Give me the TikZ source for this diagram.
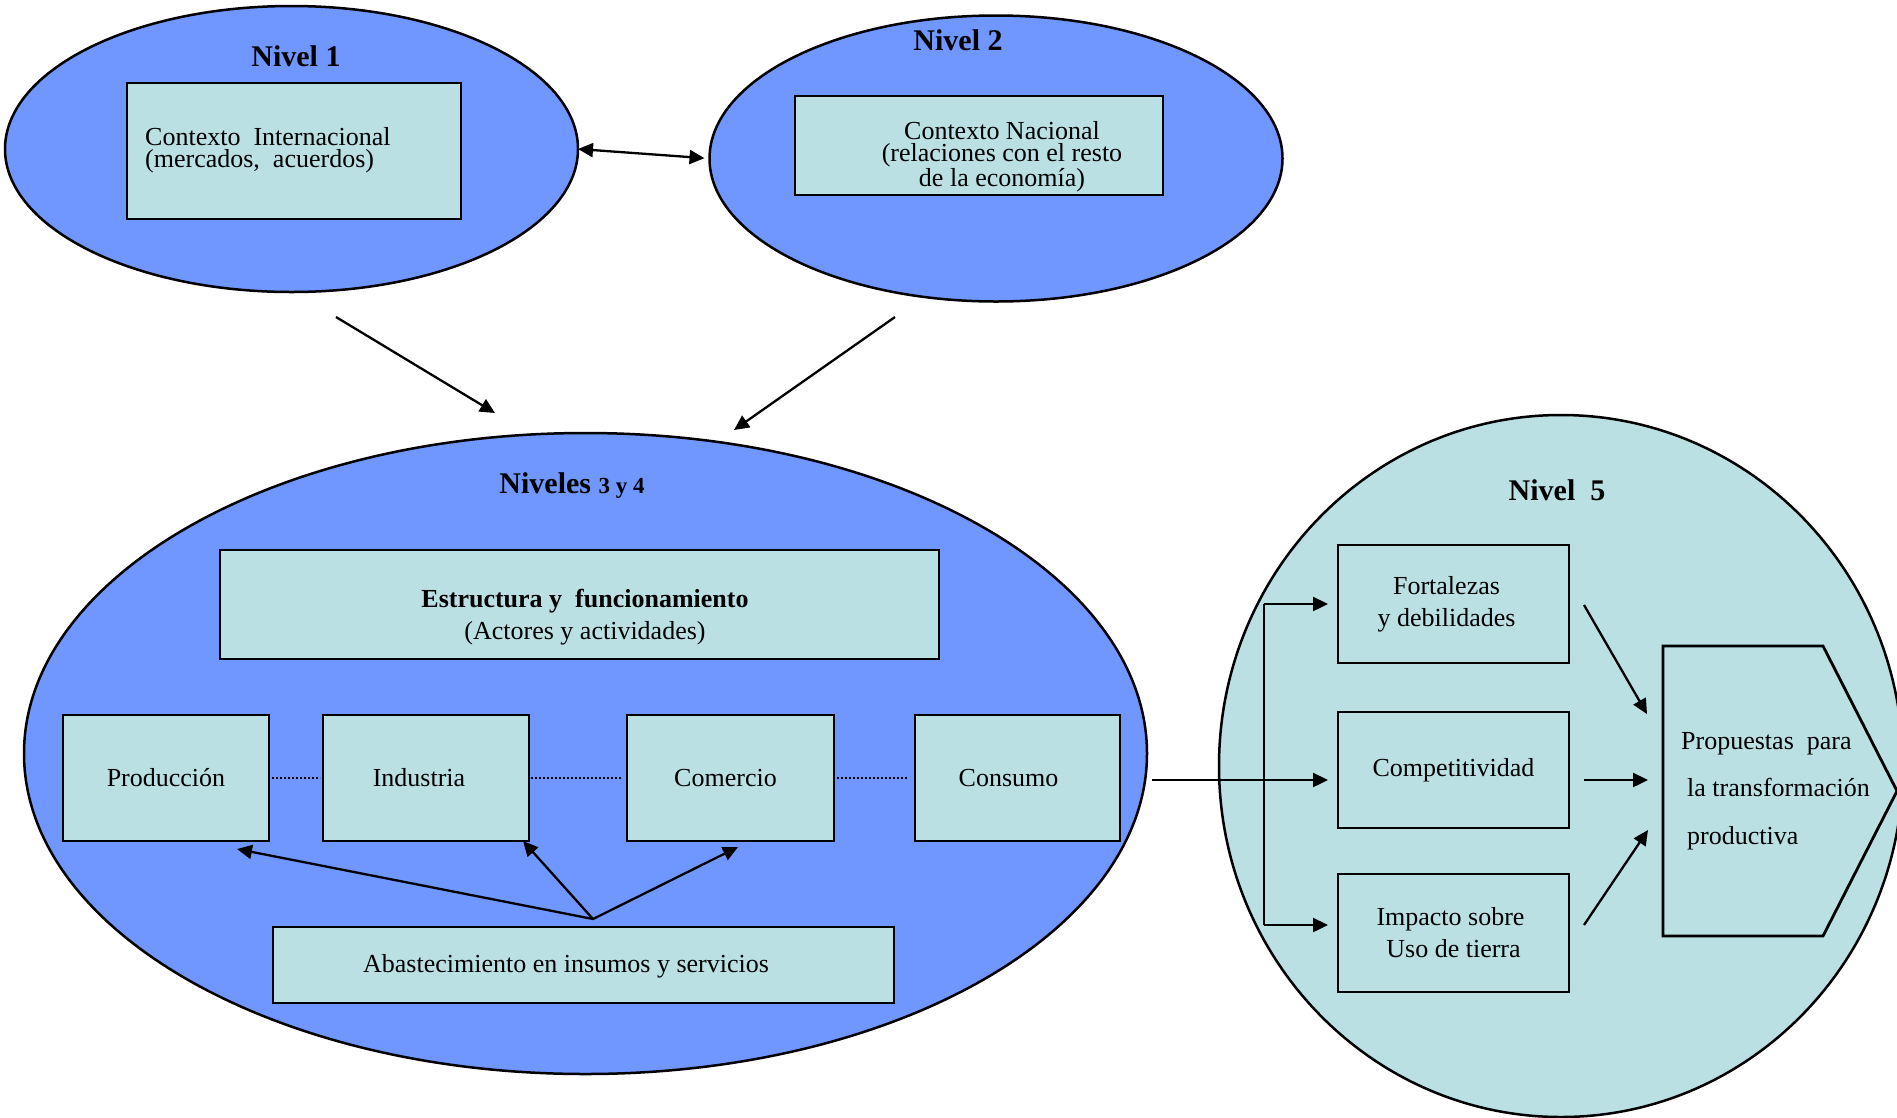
\documentclass[tikz,border=0pt]{standalone}
\usepackage{fontspec}
\setmainfont{Liberation Serif}
\usetikzlibrary{shapes.geometric,arrows.meta}
\definecolor{blueell}{RGB}{112,150,255}
\definecolor{lightbox}{RGB}{186,224,228}
\begin{document}
\begin{tikzpicture}[x=1pt,y=-1pt,
  ell/.style={ellipse,draw=black,line width=2.5pt,inner sep=0pt,outer sep=0pt},
  box/.style={draw=black,line width=2.8pt,fill=lightbox,inner sep=0pt,outer sep=0pt,align=center,font=\fontsize{26}{32}\selectfont},
  ttl/.style={font=\fontsize{30}{32}\selectfont\bfseries,inner sep=0pt},
  txt/.style={inner sep=0pt,align=center,font=\fontsize{26}{22}\selectfont},
  arr/.style={line width=2.3pt,-{Triangle[length=15pt,width=14pt]}},
  dots/.style={line width=2.4pt,dash pattern=on 2.3pt off 1.7pt}]
\useasboundingbox (0,0) rectangle (1897,1117);

% ---------- Nivel 1 ----------
\node[ell,fill=blueell,minimum width=573pt,minimum height=286pt] (n1) at (291.5,149) {};
\node[ttl] (t1) at (296,56) {Nivel 1};
\node[box,minimum width=334pt,minimum height=136pt] (b1) at (294,151) {};
\node[txt,align=left,anchor=west] (b1t) at (145,150) {Contexto\ \ Internacional\\(mercados,\ \ acuerdos)};

% ---------- Nivel 2 ----------
\node[ell,fill=blueell,minimum width=573pt,minimum height=286pt] (n2) at (996,158.5) {};
\node[ttl] (t2) at (958,40) {Nivel 2};
\node[box,minimum width=368pt,minimum height=99pt] (b2) at (979,145.5) {};
\node[txt] (b2t) at (1002,157) {Contexto Nacional\\(relaciones con el resto\\de la economía)};

\draw[line width=2.3pt,{Triangle[length=15pt,width=14pt]}-{Triangle[length=15pt,width=14pt]},shorten >=5pt] (n1.east) -- (n2.west);

% arrows down
\coordinate (a1s) at (336,317);
\coordinate (a1e) at (495,413);
\coordinate (a2s) at (895,317);
\coordinate (a2e) at (734,430);
\draw[arr] (a1s) -- (a1e);
\draw[arr] (a2s) -- (a2e);

% ---------- Niveles 3 y 4 ----------
\node[ell,fill=blueell,minimum width=1123pt,minimum height=641pt] (n34) at (585.5,753.5) {};
\node[inner sep=0pt] (t34) at (572,486) {\fontsize{30}{32}\selectfont\bfseries Niveles \fontsize{23}{26}\selectfont 3 y 4};
\node[box,minimum width=719pt,minimum height=109pt] (est) at (579.5,604.5) {};
\node[inner sep=0pt,align=center,font=\fontsize{26}{32}\selectfont] (estt) at (585,617) {\textbf{Estructura y\ \ funcionamiento}\\(Actores y actividades)};

\node[box,minimum width=206pt,minimum height=126pt] (prod) at (166,778) {Producción};
\node[box,minimum width=206pt,minimum height=126pt] (ind) at (426,778) {\hspace*{-14pt}Industria};
\node[box,minimum width=207pt,minimum height=126pt] (com) at (730.5,778) {\hspace*{-10pt}Comercio};
\node[box,minimum width=205pt,minimum height=126pt] (cons) at (1017.5,778) {\hspace*{-18pt}Consumo};
\draw[dots] ([xshift=3pt]prod.east) -- ([xshift=-3pt]ind.west);
\draw[dots] ([xshift=2pt]ind.east) -- ([xshift=-5pt]com.west);
\draw[dots] ([xshift=3pt]com.east) -- ([xshift=-7pt]cons.west);

\node[box,minimum width=621pt,minimum height=76pt] (aba) at (583.5,965) {};
\node[txt] (abat) at (566,966) {Abastecimiento en insumos y servicios};

\coordinate (src) at (593,919);
\coordinate (tp) at (237,849);
\coordinate (ti) at (523,841);
\coordinate (tc) at (738,847);
\draw[arr] (src) -- (tp);
\draw[arr] (src) -- (ti);
\draw[arr] (src) -- (tc);

% ---------- Nivel 5 ----------
\node[ell,fill=lightbox,minimum width=684pt,minimum height=702pt] (n5) at (1561,766) {};
\node[ttl] (t5) at (1557,490) {Nivel\ \ 5};
\node[box,minimum width=231pt,minimum height=118pt] (fort) at (1453.5,604) {\hspace*{-14pt}Fortalezas\\\hspace*{-14pt}y debilidades};
\node[box,minimum width=231pt,minimum height=116pt] (comp) at (1453.5,770) {Competitividad};
\node[box,minimum width=231pt,minimum height=118pt] (imp) at (1453.5,933) {\hspace*{-6pt}Impacto sobre\\Uso de tierra};

\draw[line width=2.8pt,fill=lightbox] (1663,646) -- (1823,646) -- (1897,791) -- (1823,936) -- (1663,936) -- cycle;
\node[inner sep=0pt,align=left,anchor=west,font=\fontsize{26}{47.5}\selectfont] (prop) at (1681,791) {Propuestas\ \ para\\\hspace*{6pt}la transformación\\\hspace*{6pt}productiva};

\coordinate (hs) at (1152,780);
\coordinate (bt) at (1264,604);
\coordinate (bb) at (1264,925);
\draw[line width=2.3pt] (bt) -- (bb);
\draw[arr,shorten >=10pt] (hs) -- (comp.west |- hs);
\draw[arr,shorten >=10pt] (bt) -- (fort.west |- bt);
\draw[arr,shorten >=10pt] (bb) -- (imp.west |- bb);

\coordinate (f1) at (1584,605);
\coordinate (f2) at (1647,714);
\coordinate (c1) at (1584,780);
\coordinate (c2) at (1648,780);
\coordinate (i1) at (1584,925);
\coordinate (i2) at (1648,830);
\draw[arr] (f1) -- (f2);
\draw[arr] (c1) -- (c2);
\draw[arr] (i1) -- (i2);
\end{tikzpicture}
\end{document}
